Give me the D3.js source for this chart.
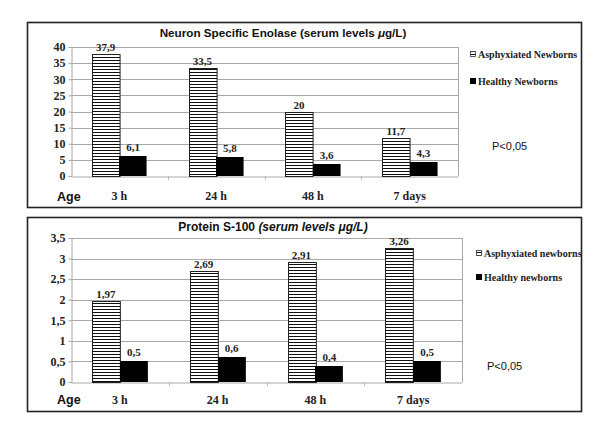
<!DOCTYPE html>
<html><head><meta charset="utf-8">
<script src="https://cdn.jsdelivr.net/npm/d3@7"></script>
<style>body{margin:0;background:#fff}</style>
</head><body>
<svg id="c" width="600" height="423"></svg>
<script>
const categories = ["3 h", "24 h", "48 h", "7 days"];
const nseAsphyxiated = [37.9, 33.5, 20, 11.7];
const nseHealthy = [6.1, 5.8, 3.6, 4.3];
const nseLabelsA = ["37,9", "33,5", "20", "11,7"];
const nseLabelsH = ["6,1", "5,8", "3,6", "4,3"];
const nseTicks = [0, 5, 10, 15, 20, 25, 30, 35, 40];
const s100Asphyxiated = [1.97, 2.69, 2.91, 3.26];
const s100Healthy = [0.5, 0.6, 0.4, 0.5];
const s100LabelsA = ["1,97", "2,69", "2,91", "3,26"];
const s100LabelsH = ["0,5", "0,6", "0,4", "0,5"];
const s100Ticks = [0, 0.5, 1, 1.5, 2, 2.5, 3, 3.5];
const s100TickLabels = ["0", "0,5", "1", "1,5", "2", "2,5", "3", "3,5"];

const svg = d3.select("#c");
const defs = svg.append("defs");
const pat = defs.append("pattern").attr("id", "stripes").attr("patternUnits", "userSpaceOnUse")
  .attr("width", 6).attr("height", 3);
pat.append("rect").attr("width", 6).attr("height", 3).attr("fill", "#fff");
pat.append("rect").attr("y", 0).attr("width", 6).attr("height", 1).attr("fill", "#111");

const serif = "'Liberation Serif','Times New Roman',serif";
const sans = "'Liberation Sans',Arial,sans-serif";

function panel(cfg) {
  const g = svg.append("g");
  g.append("rect").attr("x", cfg.box[0] + 0.5).attr("y", cfg.box[1] + 0.5)
    .attr("width", cfg.box[2]).attr("height", cfg.box[3])
    .attr("fill", "#fff").attr("stroke", "#222").attr("stroke-width", 1.6);

  const x = d3.scaleBand().domain(categories).range([cfg.x0, cfg.x1]).padding(0);
  const y = d3.scaleLinear().domain([0, cfg.max]).range([cfg.y0, cfg.y1]);
  const bw = x.bandwidth() * 0.285;

  // grid
  g.selectAll(".grid").data(cfg.ticks.filter(t => t > 0)).join("line")
    .attr("x1", cfg.x0).attr("x2", cfg.x1)
    .attr("y1", d => Math.round(y(d)) + 0.5).attr("y2", d => Math.round(y(d)) + 0.5)
    .attr("stroke", "#a8a8a8").attr("stroke-width", 1);
  g.append("line").attr("x1", cfg.x1 + 0.5).attr("x2", cfg.x1 + 0.5)
    .attr("y1", cfg.y1).attr("y2", cfg.y0).attr("stroke", "#a8a8a8");

  // y axis
  const ya = d3.axisLeft(y).tickValues(cfg.ticks).tickSize(3)
    .tickFormat((d, i) => cfg.tickLabels[i]);
  const yg = g.append("g").attr("transform", `translate(${cfg.x0 + 0.5},0)`).call(ya);
  yg.attr("font-family", serif);
  yg.select(".domain").attr("stroke", "#a8a8a8");
  yg.selectAll(".tick line").attr("stroke", "#a8a8a8");
  yg.selectAll("text").attr("font-family", serif).attr("font-weight", "bold")
    .attr("font-size", 12).attr("fill", "#222").attr("x", -6);

  // x axis
  const xa = d3.axisBottom(x).tickSize(0).tickPadding(cfg.catPad);
  const xg = g.append("g").attr("transform", `translate(0,${cfg.y0 + 0.5})`).call(xa);
  xg.attr("font-family", serif);
  xg.select(".domain").attr("stroke", "#a8a8a8");
  xg.selectAll("text").attr("font-family", serif).attr("font-weight", "bold")
    .attr("font-size", 12).attr("fill", "#222");
  g.selectAll(".bt").data(categories.slice(1)).join("line")
    .attr("x1", d => Math.round(x(d)) + 0.5).attr("x2", d => Math.round(x(d)) + 0.5)
    .attr("y1", cfg.y0).attr("y2", cfg.y0 + 4).attr("stroke", "#bbb");

  // bars
  const A = categories.map((c, i) => ({c, v: cfg.a[i], l: cfg.la[i]}));
  const H = categories.map((c, i) => ({c, v: cfg.h[i], l: cfg.lh[i]}));
  const cx = c => x(c) + x.bandwidth() / 2;
  g.selectAll(".ba").data(A).join("rect")
    .attr("x", d => Math.round(cx(d.c) - bw) + 0.5).attr("y", d => Math.round(y(d.v)) + 0.5)
    .attr("width", bw).attr("height", d => cfg.y0 - Math.round(y(d.v)))
    .attr("fill", "url(#stripes)").attr("stroke", "#222").attr("stroke-width", 1);
  g.selectAll(".bh").data(H).join("rect")
    .attr("x", d => Math.round(cx(d.c))).attr("y", d => Math.round(y(d.v)))
    .attr("width", bw).attr("height", d => cfg.y0 - Math.round(y(d.v)))
    .attr("fill", "#000");

  // value labels
  g.selectAll(".la").data(A).join("text")
    .attr("x", d => cx(d.c) - bw / 2).attr("y", d => y(d.v) - 3)
    .attr("text-anchor", "middle").attr("font-family", serif).attr("font-weight", "bold")
    .attr("font-size", 11).attr("fill", "#222").text(d => d.l);
  g.selectAll(".lh").data(H).join("text")
    .attr("x", d => cx(d.c) + bw / 2).attr("y", d => y(d.v) - 5)
    .attr("text-anchor", "middle").attr("font-family", serif).attr("font-weight", "bold")
    .attr("font-size", 11).attr("fill", "#222").text(d => d.l);

  // Age
  g.append("text").attr("x", 57).attr("y", cfg.ageY).attr("font-family", sans)
    .attr("font-weight", "bold").attr("font-size", 12.5).attr("fill", "#111").text("Age");

  // title
  const t = g.append("text").attr("x", cfg.titleX).attr("y", cfg.titleY).attr("text-anchor", "middle")
    .attr("font-family", sans).attr("font-weight", "bold").attr("font-size", cfg.titleSize).attr("fill", "#111");
  cfg.title.forEach(p => t.append("tspan").attr("font-style", p[1] ? "italic" : "normal").text(p[0]));

  // legend
  const lg = g.append("g");
  lg.append("rect").attr("x", cfg.legX + 0.5).attr("y", cfg.legY1 - 6.5).attr("width", 5).attr("height", 5)
    .attr("fill", "url(#stripes)").attr("stroke", "#333").attr("stroke-width", 0.8);
  lg.append("text").attr("x", cfg.legX + 8).attr("y", cfg.legY1).attr("font-family", serif)
    .attr("font-weight", "bold").attr("font-size", 10).attr("fill", "#222").text(cfg.leg[0]);
  lg.append("rect").attr("x", cfg.legX).attr("y", cfg.legY2 - 7).attr("width", 6).attr("height", 6)
    .attr("fill", "#000");
  lg.append("text").attr("x", cfg.legX + 8).attr("y", cfg.legY2).attr("font-family", serif)
    .attr("font-weight", "bold").attr("font-size", 10).attr("fill", "#222").text(cfg.leg[1]);

  g.append("text").attr("x", cfg.pX).attr("y", cfg.pY).attr("font-family", sans)
    .attr("font-size", 11).attr("fill", "#111").text("P<0,05");
}

panel({
  box: [27, 22, 554, 185], x0: 71, x1: 458, y0: 176, y1: 47, max: 40,
  ticks: nseTicks, tickLabels: nseTicks.map(String),
  a: nseAsphyxiated, h: nseHealthy, la: nseLabelsA, lh: nseLabelsH,
  catPad: 15, ageY: 201,
  title: [["Neuron Specific Enolase (serum levels ", false], ["\u03bc", true], ["g/L)", false]],
  titleX: 283, titleY: 37, titleSize: 11.7,
  leg: ["Asphyxiated Newborns", "Healthy Newborns"], legX: 470, legY1: 58, legY2: 85,
  pX: 492, pY: 150
});
panel({
  box: [27, 217, 554, 194], x0: 71, x1: 462, y0: 382, y1: 238, max: 3.5,
  ticks: s100Ticks, tickLabels: s100TickLabels,
  a: s100Asphyxiated, h: s100Healthy, la: s100LabelsA, lh: s100LabelsH,
  catPad: 13, ageY: 404,
  title: [["Protein S-100 ", false], ["(serum levels \u03bcg/L)", true]],
  titleX: 273, titleY: 231, titleSize: 12,
  leg: ["Asphyxiated newborns", "Healthy newborns"], legX: 476, legY1: 257, legY2: 281,
  pX: 487, pY: 370
});
</script>
</body></html>
